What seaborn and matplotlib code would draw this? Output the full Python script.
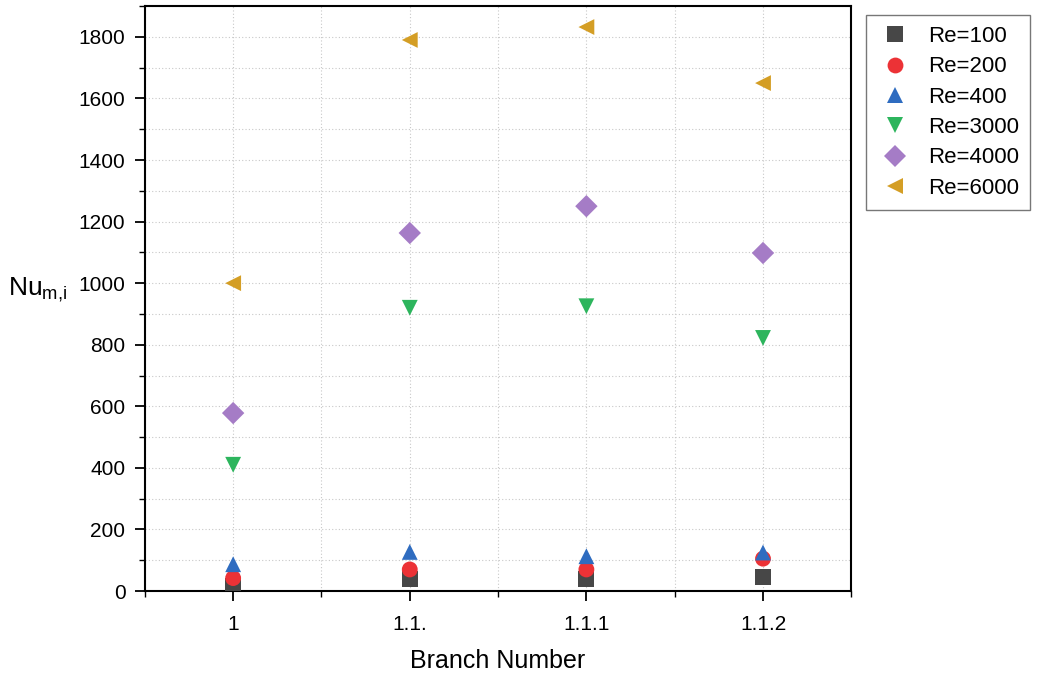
import matplotlib
matplotlib.use("Agg")
import matplotlib.pyplot as plt
import seaborn as sns
import pandas as pd
from matplotlib.ticker import MultipleLocator

branches = ["1", "1.1.", "1.1.1", "1.1.2"]
re_labels = ["Re=100", "Re=200", "Re=400", "Re=3000", "Re=4000", "Re=6000"]
nu_re100 = [15, 38, 40, 45]
nu_re200 = [42, 70, 70, 105]
nu_re400 = [87, 127, 113, 125]
nu_re3000 = [410, 920, 925, 822]
nu_re4000 = [578, 1163, 1250, 1098]
nu_re6000 = [1000, 1790, 1832, 1650]
series = [nu_re100, nu_re200, nu_re400, nu_re3000, nu_re4000, nu_re6000]

colors = ["#474747", "#ec3236", "#2f6cc0", "#2db55d", "#a57cc6", "#d49e25"]
markers = ["s", "o", "^", "v", "D", "<"]

rows = []
for lab, vals in zip(re_labels, series):
    for b, v in zip(branches, vals):
        rows.append({"Branch": b, "Nu": v, "Re": lab})
df = pd.DataFrame(rows)

sns.set_theme(style="white")
plt.rcParams["font.family"] = ["Liberation Sans", "DejaVu Sans"]
plt.rcParams["mathtext.fontset"] = "custom"
plt.rcParams["mathtext.rm"] = "Liberation Sans"
plt.rcParams["mathtext.it"] = "Liberation Sans"
plt.rcParams["text.color"] = "black"
plt.rcParams["axes.labelcolor"] = "black"
plt.rcParams["xtick.color"] = "black"
plt.rcParams["ytick.color"] = "black"

fig = plt.figure(figsize=(10.42, 6.79), dpi=100)
ax = fig.add_axes([0.139, 0.1296, 0.678, 0.8614])

sns.scatterplot(data=df, x="Branch", y="Nu", hue="Re", style="Re",
                hue_order=re_labels, style_order=re_labels,
                palette=colors, markers=markers, s=130, linewidth=0,
                ax=ax, legend=True, zorder=3)

ax.set_xlim(-0.5, 3.5)
ax.set_ylim(0, 1900)
ax.yaxis.set_major_locator(MultipleLocator(200))
ax.yaxis.set_minor_locator(MultipleLocator(100))
ax.xaxis.set_minor_locator(MultipleLocator(0.5))

ax.grid(which="both", axis="both", linestyle=(0, (1, 2)), color="#c8c8c8", linewidth=0.8)
ax.set_axisbelow(True)

for sp in ax.spines.values():
    sp.set_color("black")
    sp.set_linewidth(1.5)

ax.tick_params(which="major", direction="out", length=7, width=1.3, colors="black",
               labelsize=15, bottom=True, left=True, top=False, right=False, pad=7)
ax.tick_params(which="major", axis="x", pad=10)
ax.tick_params(which="minor", direction="out", length=4, width=1.0, colors="black",
               bottom=True, left=True, top=False, right=False)

ax.set_xlabel("Branch Number", fontsize=18, labelpad=11)
ax.set_ylabel(r"Nu$_{\mathrm{m{,}i}}$", fontsize=19, rotation=0, ha="center", va="center")
ax.yaxis.set_label_coords(-0.152, 0.515)

handles, labels = ax.get_legend_handles_labels()
leg = ax.legend(handles, labels, loc="upper left", bbox_to_anchor=(1.021, 0.985),
                borderaxespad=0, frameon=True, fancybox=False, edgecolor="#555555",
                fontsize=16, markerscale=1.0, handletextpad=0.7, labelspacing=0.42,
                borderpad=0.5, handlelength=1.6)
leg.get_frame().set_linewidth(1.0)

fig.savefig("out.png", dpi=100)
